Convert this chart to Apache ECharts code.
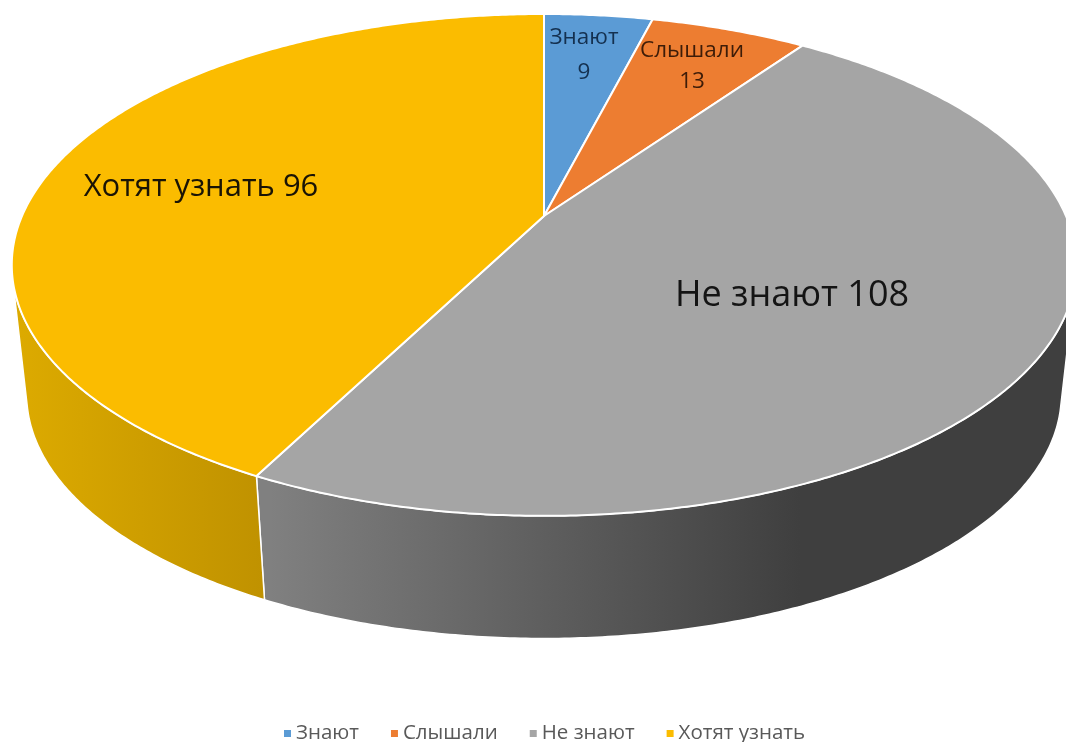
<!DOCTYPE html>
<html>
<head>
<meta charset="utf-8">
<title>pie</title>
<style>
html, body { margin: 0; padding: 0; background: #fff; }
#chart { width: 1066px; height: 742px; }
</style>
<script src="https://cdn.jsdelivr.net/npm/echarts@6/dist/echarts.min.js"></script>
</head>
<body>
<div id="chart"></div>
<script>
var categories = ['Знают', 'Слышали', 'Не знают', 'Хотят узнать'];
var values = [9, 13, 108, 96];

// цвета секторов
var topColors = ['#5b9bd5', '#ed7d31', '#a5a5a5', '#fbbc00'];
var wallFrom = ['#4a7fb0', '#c26628', '#808080', '#dcaa00'];
var wallTo = ['#3c6a94', '#a85820', '#3f3f3f', '#c09200'];
var wallRange = [[600, 800], [700, 1000], [270, 800], [20, 262]];

// подписи: текст, центр, шрифт, цвет
var labelTexts = ['Знают\n9', 'Слышали\n13', 'Не знают 108', 'Хотят узнать 96'];
var labelPos = [[584, 55.5], [692, 66], [792, 296], [201, 187]];
var labelSize = [22.5, 22.5, 36, 31];
var labelLine = [35, 31, 40, 40];
var labelColor = ['#14304f', '#3d1c08', '#141414', '#1a1405'];

// перспектива: окружность -> эллипс, вершина сектора не в центре эллипса
var APEX_X = 544, APEX_Y = 216, RX = 522, RY = 241.4, K = 0.195;
// нижняя грань
var BOTTOM_Y = 347, BOTTOM_SCALE = 0.972;

var total = values.reduce(function(a, b) { return a + b; }, 0);

function project(v) {
    var ang = v / total * Math.PI * 2;
    var u = Math.sin(ang), d = -Math.cos(ang);
    var w = 1 - K * d;
    return [APEX_X + RX * u / w, APEX_Y + RY * d / w];
}

function lower(p) {
    return [APEX_X + (p[0] - APEX_X) * BOTTOM_SCALE, BOTTOM_Y + (p[1] - APEX_Y) * BOTTOM_SCALE];
}

function arc(start, end) {
    var n = Math.max(2, Math.ceil((end - start) / total * 720));
    var pts = [];
    for (var i = 0; i <= n; i++) {
        pts.push(start + (end - start) * i / n);
    }
    return pts;
}

// видна ли боковая стенка в этой точке окружности
function visible(v) {
    var a = project(v), b = project(v + 0.01), c = lower(a);
    var tx = b[0] - a[0], ty = b[1] - a[1], dx = c[0] - a[0], dy = c[1] - a[1];
    return tx * dy - ty * dx < 0;
}

function renderWall(params, api) {
    var i = params.dataIndex;
    var steps = arc(api.value(0), api.value(1)).filter(visible);
    if (steps.length < 2) {
        return { type: 'group', children: [] };
    }
    var upper = steps.map(project);
    var bottom = upper.map(lower).reverse();
    return {
        type: 'polygon',
        shape: { points: upper.concat(bottom) },
        style: {
            fill: new echarts.graphic.LinearGradient(wallRange[i][0], 0, wallRange[i][1], 0, [
                { offset: 0, color: wallFrom[i] },
                { offset: 1, color: wallTo[i] }
            ], true),
            stroke: '#fff',
            lineWidth: 1.5,
            lineJoin: 'round'
        }
    };
}

function renderTop(index) {
    return function(params, api) {
        var pts = [[APEX_X, APEX_Y]].concat(arc(api.value(0), api.value(1)).map(project));
        return {
            type: 'group',
            children: [{
                type: 'polygon',
                shape: { points: pts },
                style: { fill: topColors[index], stroke: '#fff', lineWidth: 2, lineJoin: 'round' }
            }, {
                type: 'text',
                z2: 100,
                x: labelPos[index][0],
                y: labelPos[index][1],
                style: {
                    text: labelTexts[index],
                    fill: labelColor[index],
                    font: labelSize[index] + 'px "Open Sans"',
                    lineHeight: labelLine[index],
                    align: 'center',
                    verticalAlign: 'middle'
                }
            }]
        };
    };
}

var ranges = [], sum = 0;
values.forEach(function(v) {
    ranges.push([sum, sum + v]);
    sum += v;
});

var series = [{
    type: 'custom',
    name: 'стенка',
    coordinateSystem: 'none',
    z: 1,
    silent: true,
    renderItem: renderWall,
    data: ranges
}];

categories.forEach(function(name, i) {
    series.push({
        type: 'custom',
        name: name,
        coordinateSystem: 'none',
        z: 2,
        itemStyle: { color: topColors[i] },
        renderItem: renderTop(i),
        data: [ranges[i]]
    });
});

var chart = echarts.init(document.getElementById('chart'));
chart.setOption({
    animation: false,
    backgroundColor: '#fff',
    legend: {
        data: categories,
        left: 284,
        top: 723,
        padding: [0, 0, 0, 0],
        icon: 'rect',
        itemWidth: 7,
        itemHeight: 7,
        itemGap: 32,
        textStyle: { color: '#595959', fontSize: 20.5, fontFamily: 'Open Sans' }
    },
    series: series
});
</script>
</body>
</html>
